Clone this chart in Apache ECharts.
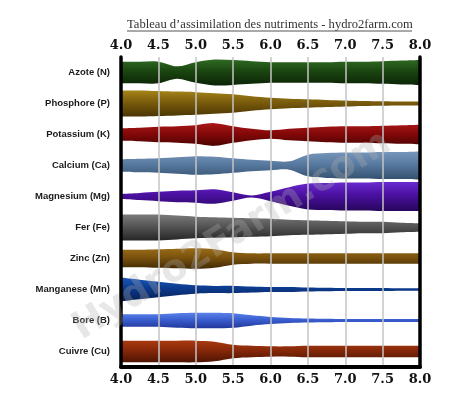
<!DOCTYPE html>
<html>
<head>
<meta charset="utf-8">
<script src="https://cdn.jsdelivr.net/npm/echarts@6/dist/echarts.min.js"></script>
<style>
    html, body {margin: 0; padding: 0; background: #ffffff;}
    #chart {width: 474px; height: 405px;}
</style>
</head>
<body>
<div id="chart"></div>
<script>
// pH points read along the x axis
const ph = [4.0, 4.25, 4.5, 4.75, 5.0, 5.25, 5.5, 5.75, 6.0, 6.25, 6.5, 6.75, 7.0, 7.25, 7.5, 7.75, 8.0];

const nutriments = ["Azote (N)", "Phosphore (P)", "Potassium (K)", "Calcium (Ca)", "Magnesium (Mg)",
    "Fer (Fe)", "Zinc (Zn)", "Manganese (Mn)", "Bore (B)", "Cuivre (Cu)"];

// band thickness (availability), 30 = a full row
const azote     = [21, 21, 21, 12, 20, 25, 24, 22, 20, 20, 20, 20, 21, 21, 22, 23, 24];
const phosphore = [25, 25, 24, 23, 22, 20, 18, 14, 11, 9, 8, 7, 6, 5, 4.5, 4, 4];
const potassium = [12, 13, 15, 16, 18, 22, 16, 11, 8, 11, 13, 15, 16, 16, 17, 18, 19];
const calcium   = [12, 13, 14, 16, 18, 17, 14, 11, 9, 8, 21, 24, 25, 25, 26, 26, 27];
const magnesium = [5, 7, 9, 11, 12, 14, 8, 2, 9, 18, 25, 26, 27, 27, 28, 28, 28];
const fer       = [25, 25, 25, 23, 21, 20, 19, 18, 17, 15, 14, 13, 12, 11, 11, 9, 8];
const zinc      = [17, 17, 18, 19, 20, 18, 12, 10, 10, 10, 10, 10, 10, 10, 10, 10, 10];
const manganese = [23, 19, 15, 11, 8, 7, 7, 6, 5, 5, 4, 3.5, 3, 3, 3, 2.5, 2.5];
const bore      = [12, 12, 12, 14, 15, 15, 14, 10, 7, 5, 4, 3.5, 3, 3, 3, 3, 3];
const cuivre    = [21, 21, 21, 21, 21, 19, 13, 11, 10, 10, 11, 11, 11, 11, 11, 11, 11];

const largeurs = [azote, phosphore, potassium, calcium, magnesium, fer, zinc, manganese, bore, cuivre];
const couleurs = [
    ["#2f6a22", "#1a4510", "#0b2406"],
    ["#a48418", "#7a5c0c", "#4a3604"],
    ["#a81818", "#860808", "#4e0303"],
    ["#7896bc", "#587aa0", "#34506e"],
    ["#6a2ad0", "#4a10a0", "#28065c"],
    ["#7a7a7a", "#555555", "#262626"],
    ["#9a6c18", "#7a520e", "#422a04"],
    ["#1a56b8", "#0c3a8c", "#061f52"],
    ["#5a82ea", "#3a5ed0", "#22389a"],
    ["#a83a10", "#862808", "#4e1404"]
];

const ROW = 30;

// smooth path through points (catmull-rom -> bezier)
function courbe(pts, debut) {
    let d = debut ? 'M' + pts[0][0] + ',' + pts[0][1] : 'L' + pts[0][0] + ',' + pts[0][1];
    for (let k = 0; k < pts.length - 1; k++) {
        let p0 = pts[Math.max(k - 1, 0)], p1 = pts[k], p2 = pts[k + 1], p3 = pts[Math.min(k + 2, pts.length - 1)];
        let t = 0.16;
        let c1 = [p1[0] + (p2[0] - p0[0]) * t, p1[1] + (p2[1] - p0[1]) * t];
        let c2 = [p2[0] - (p3[0] - p1[0]) * t, p2[1] - (p3[1] - p1[1]) * t];
        d += 'C' + c1[0] + ',' + c1[1] + ' ' + c2[0] + ',' + c2[1] + ' ' + p2[0] + ',' + p2[1];
    }
    return d;
}

function renderBande(params, api) {
    let i = api.value(0);
    let w = largeurs[i];
    let haut = ph.map(function (x, k) { return api.coord([x, i - w[k] / ROW / 2]); });
    let bas = ph.map(function (x, k) { return api.coord([x, i + w[k] / ROW / 2]); }).reverse();
    let d = courbe(haut, true) + courbe(bas, false) + 'Z';
    let yTop = Math.min.apply(null, haut.map(function (p) { return p[1]; }));
    let yBot = Math.max.apply(null, bas.map(function (p) { return p[1]; }));
    return {
        type: 'path',
        shape: {pathData: d},
        style: {
            fill: new echarts.graphic.LinearGradient(0, yTop, 0, yBot, [
                {offset: 0, color: couleurs[i][0]},
                {offset: 0.45, color: couleurs[i][1]},
                {offset: 1, color: couleurs[i][2]}
            ], true)
        }
    };
}

let axisFont = {fontFamily: 'DejaVu Serif', fontWeight: 'bold', fontSize: 13, color: '#111'};

let option = {
    animation: false,
    title: {
        text: "Tableau d’assimilation des nutriments - hydro2farm.com",
        left: 122,
        top: 13,
        textStyle: {fontFamily: 'Liberation Serif', fontWeight: 'normal', fontSize: 12.6, color: '#333'}
    },
    graphic: [
        {
            type: 'line', z: 10,
            shape: {x1: 127, y1: 31, x2: 412, y2: 31},
            style: {stroke: '#555', lineWidth: 1}
        },
        {
            type: 'text', z: 10,
            x: 232, y: 236, rotation: 0.55,
            style: {
                text: 'Hydro2Farm.com',
                font: 'bold 38px "DejaVu Sans"',
                fill: 'rgba(175,175,175,0.3)',
                align: 'center', verticalAlign: 'middle'
            }
        }
    ],
    grid: {left: 121, right: 54, top: 57, bottom: 38},
    xAxis: [
        {
            type: 'value', min: 4, max: 8, interval: 0.5, position: 'bottom', z: 5,
            axisLine: {show: true, onZero: false, lineStyle: {color: '#000', width: 4}},
            axisTick: {show: false},
            axisLabel: Object.assign({margin: 6, formatter: function (v) { return v.toFixed(1); }}, axisFont),
            splitLine: {show: true, lineStyle: {color: '#c4c4c4', width: 1.5}}
        },
        {
            type: 'value', min: 4, max: 8, interval: 0.5, position: 'top', z: 5,
            axisLine: {show: false, onZero: false},
            axisTick: {show: false},
            axisLabel: Object.assign({margin: 5, formatter: function (v) { return v.toFixed(1); }}, axisFont),
            splitLine: {show: false}
        }
    ],
    yAxis: [
        {
            type: 'value', min: -0.5, max: 9.5, inverse: true, position: 'left', z: 5,
            axisLine: {show: true, onZero: false, lineStyle: {color: '#000', width: 3.5}},
            axisTick: {show: false},
            splitLine: {show: false},
            axisLabel: {
                customValues: [0, 1, 2, 3, 4, 5, 6, 7, 8, 9],
                formatter: function (v) { return nutriments[Math.round(v)]; },
                margin: 11,
                fontFamily: 'Liberation Sans', fontWeight: 'bold', fontSize: 9.5, color: '#1a1a1a'
            }
        },
        {
            type: 'value', min: -0.5, max: 9.5, inverse: true, position: 'right', z: 5,
            axisLine: {show: true, onZero: false, lineStyle: {color: '#000', width: 3.5}},
            axisTick: {show: false},
            axisLabel: {show: false},
            splitLine: {show: false}
        }
    ],
    series: [{
        type: 'custom',
        renderItem: renderBande,
        clip: true,
        silent: true,
        data: nutriments.map(function (n, i) { return [i]; }),
        z: 2
    }]
};

let chart = echarts.init(document.getElementById('chart'));
chart.setOption(option);
window.onresize = chart.resize;
</script>
</body>
</html>
